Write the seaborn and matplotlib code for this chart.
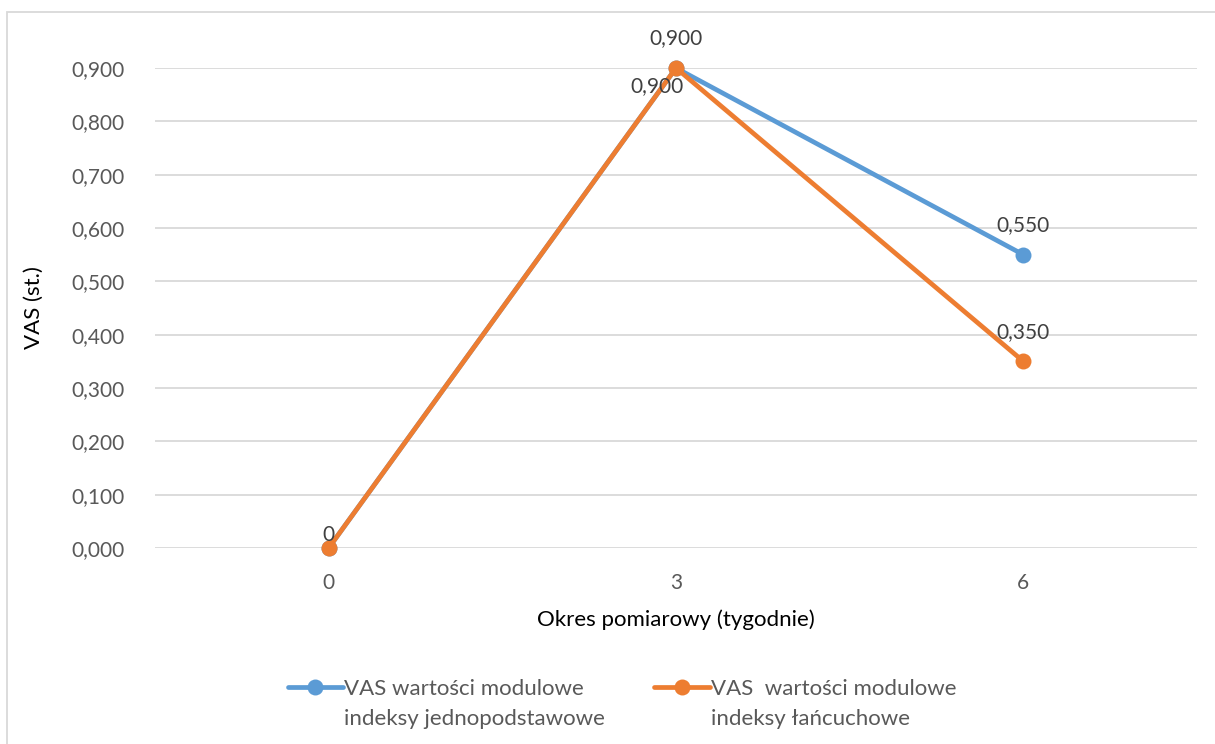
import matplotlib
matplotlib.use("Agg")
import matplotlib.pyplot as plt
import seaborn as sns
import pandas as pd
from matplotlib.patches import Rectangle
from matplotlib.legend_handler import HandlerLine2D

weeks = ["0", "3", "6"]
series_names = ["VAS wartości modulowe\nindeksy jednopodstawowe",
                "VAS  wartości modulowe\nindeksy łańcuchowe"]
vas_base = [0.0, 0.900, 0.550]
vas_chain = [0.0, 0.900, 0.350]
base_labels = ["0", "0,900", "0,550"]
chain_labels = ["0", "0,900", "0,350"]
y_ticks = [0.0, 0.1, 0.2, 0.3, 0.4, 0.5, 0.6, 0.7, 0.8, 0.9]
y_ticklabels = ["0,000", "0,100", "0,200", "0,300", "0,400", "0,500",
                "0,600", "0,700", "0,800", "0,900"]

df = pd.DataFrame({
    "week": weeks * 2,
    "vas": vas_base + vas_chain,
    "series": [series_names[0]] * 3 + [series_names[1]] * 3,
})

sns.set_theme(style="white")
plt.rcParams["font.family"] = ["Lato", "DejaVu Sans"]

fig = plt.figure(figsize=(12.15, 7.44), dpi=100)
ax = fig.add_axes([155 / 1215, 1 - 548 / 744, (1197 - 155) / 1215, (548 - 68) / 744])

palette = {series_names[0]: "#5B9BD5", series_names[1]: "#ED7D31"}
sns.lineplot(data=df, x="week", y="vas", hue="series", palette=palette,
             marker="o", markersize=11.5, markeredgewidth=0, linewidth=3.4,
             sort=False, ax=ax, legend=True)
for line in ax.lines:
    line.set_clip_on(False)

ax.set_xlim(-0.5, 2.5)
ax.set_ylim(0, 0.9)
ax.set_yticks(y_ticks)
ax.set_yticklabels(y_ticklabels)
ax.grid(axis="y", color="#D9D9D9", linewidth=1.3)
ax.set_axisbelow(True)
for s in ax.spines.values():
    s.set_visible(False)
ax.tick_params(axis="both", length=0, labelsize=15, labelcolor="#595959")
ax.tick_params(axis="y", pad=22)
ax.tick_params(axis="x", pad=18)
ax.set_xlabel("Okres pomiarowy (tygodnie)", fontsize=16, color="black", labelpad=12)
ax.set_ylabel("VAS (st.)", fontsize=16, color="black", labelpad=20)

lab_kw = dict(fontsize=15, color="#404040", ha="center")
for i, (v, t) in enumerate(zip(vas_base, base_labels)):
    if i == 0:
        continue
    ax.annotate(t, (i, v), xytext=(0, 14), textcoords="offset points", va="bottom", **lab_kw)
ax.annotate(chain_labels[0], (0, vas_chain[0]), xytext=(0, 2), textcoords="offset points", va="bottom", **lab_kw)
ax.annotate(chain_labels[1], (1, vas_chain[1]), xytext=(-14, -6), textcoords="offset points", va="top", **lab_kw)
ax.annotate(chain_labels[2], (2, vas_chain[2]), xytext=(0, 14), textcoords="offset points", va="bottom", **lab_kw)


class TopLineHandler(HandlerLine2D):
    def create_artists(self, legend, orig_handle, xdescent, ydescent, width,
                       height, fontsize, trans):
        arts = super().create_artists(legend, orig_handle, xdescent, ydescent,
                                      width, height, fontsize, trans)
        shift = 0.78 * fontsize
        for a in arts:
            xd, yd = a.get_data()
            a.set_data(xd, [y + shift for y in yd])
        return arts


handles, labels = ax.get_legend_handles_labels()
ax.get_legend().remove()
leg = fig.legend(handles, labels, loc="center", bbox_to_anchor=(622 / 1215, 1 - 704 / 744), ncol=2,
                 frameon=False, fontsize=16, labelcolor="#595959", handlelength=2.5,
                 handletextpad=0.05, columnspacing=2.2,
                 handler_map={h: TopLineHandler() for h in handles})
for t in leg.get_texts():
    t.set_linespacing(1.6)

fig.add_artist(Rectangle((7 / 1215, -0.1), 1.2, (744 - 12) / 744 + 0.1,
                         transform=fig.transFigure, fill=False,
                         edgecolor="#D9D9D9", linewidth=1.3, clip_on=False))

fig.savefig("out.png", dpi=100)
